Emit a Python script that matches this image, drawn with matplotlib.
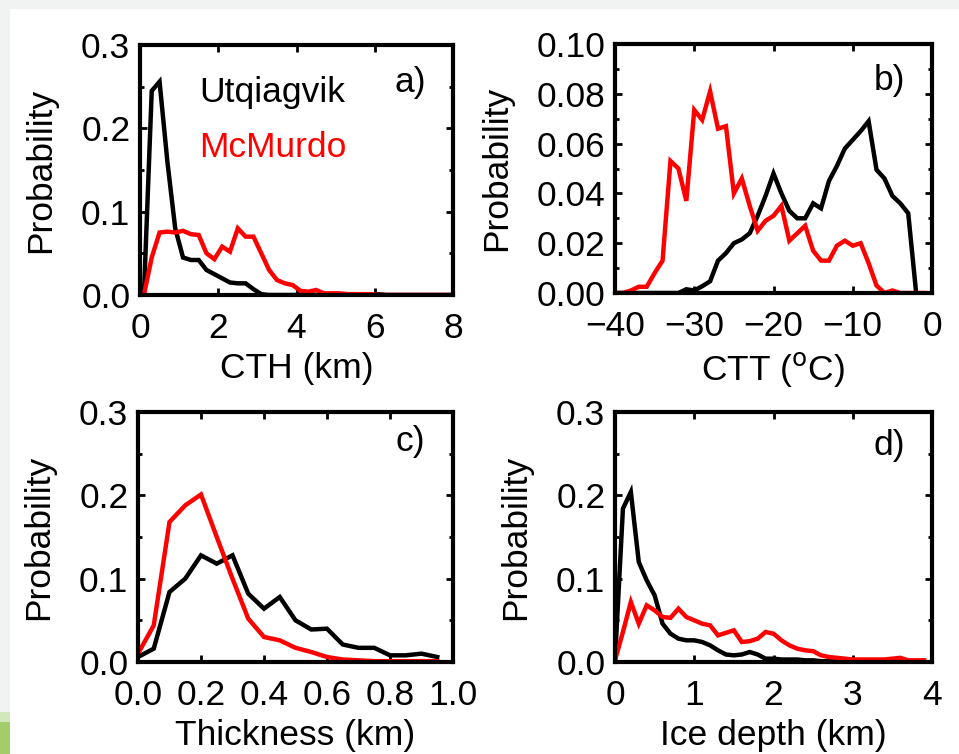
import numpy as np
import matplotlib
matplotlib.use("Agg")
import matplotlib.pyplot as plt
from matplotlib.patches import Rectangle
from matplotlib.ticker import MultipleLocator

plt.rcParams['font.family'] = ['Liberation Sans', 'DejaVu Sans']

# ---------------- data ----------------
# a) CTH (km)
cth_x = [0.1, 0.3, 0.5, 0.7, 0.9, 1.1, 1.3, 1.5, 1.7, 1.9, 2.1, 2.3, 2.5, 2.7, 2.9,
         3.1, 3.3, 3.5, 3.7, 3.9, 4.1, 4.3, 4.5, 4.7, 4.9, 5.1, 5.3, 5.5, 5.7, 5.9,
         6.1, 6.3, 6.5, 6.7, 6.9, 7.1, 7.3, 7.5, 7.7, 7.9]
cth_utq = [0.0, 0.245, 0.256, 0.16, 0.08, 0.045, 0.042, 0.042, 0.03, 0.025, 0.02, 0.015,
           0.014, 0.014, 0.007, 0.001, 0.0, 0.0, 0.0, 0.0, 0.0, 0.001, 0.0, 0.001, 0.001,
           0.001, 0.001, 0.001, 0.0, 0.0, 0.001, 0.0, 0.0, 0.0, 0.0, 0.0, 0.0, 0.0, 0.0, 0.0]
cth_mcm = [0.0, 0.045, 0.075, 0.076, 0.075, 0.077, 0.073, 0.072, 0.05, 0.043, 0.058, 0.052,
           0.08, 0.07, 0.07, 0.05, 0.03, 0.018, 0.014, 0.012, 0.005, 0.004, 0.006, 0.002,
           0.002, 0.002, 0.001, 0.001, 0.001, 0.001, 0.0, 0.0, 0.0, 0.0, 0.0, 0.0, 0.0,
           0.0, 0.0, 0.0]

# b) CTT (degC)
ctt_x = list(range(-40, 0))
ctt_utq = [0.0, 0.0, 0.0, 0.0, 0.0, 0.0, 0.0, 0.0, 0.0, 0.0015, 0.001, 0.0027, 0.0047,
           0.013, 0.016, 0.02, 0.0215, 0.024, 0.031, 0.039, 0.048, 0.040, 0.033, 0.030,
           0.030, 0.036, 0.034, 0.045, 0.051, 0.058, 0.0615, 0.065, 0.069, 0.0495, 0.046,
           0.039, 0.036, 0.032, 0.0, np.nan]
ctt_mcm = [0.0, 0.0, 0.001, 0.0025, 0.0025, 0.008, 0.013, 0.053, 0.05, 0.037, 0.0735,
           0.0695, 0.081, 0.066, 0.067, 0.04, 0.046, 0.035, 0.025, 0.029, 0.031, 0.035,
           0.021, 0.024, 0.027, 0.017, 0.013, 0.013, 0.019, 0.021, 0.019, 0.020, 0.012,
           0.003, 0.0, 0.001, 0.0, 0.0, 0.0, 0.0]

# c) Thickness (km)
thk_x = [0.0, 0.05, 0.1, 0.15, 0.2, 0.25, 0.3, 0.35, 0.4, 0.45, 0.5, 0.55, 0.6, 0.65,
         0.7, 0.75, 0.8, 0.85, 0.9, 0.95]
thk_utq = [0.006, 0.016, 0.084, 0.1, 0.128, 0.118, 0.128, 0.082, 0.064, 0.078, 0.05,
           0.039, 0.04, 0.021, 0.017, 0.017, 0.008, 0.008, 0.01, 0.006]
thk_mcm = [0.01, 0.044, 0.168, 0.188, 0.201, 0.15, 0.1, 0.052, 0.03, 0.026, 0.017,
           0.012, 0.006, 0.003, 0.002, 0.001, 0.001, 0.001, 0.001, 0.001]

# d) Ice depth (km)
ice_x = [round(0.1 * i, 1) for i in range(40)]
ice_utq = [0.002, 0.184, 0.204, 0.12, 0.098, 0.08, 0.046, 0.034, 0.028, 0.026, 0.026,
           0.024, 0.02, 0.014, 0.009, 0.008, 0.009, 0.012, 0.009, 0.004, 0.004, 0.003,
           0.003, 0.003, 0.002, 0.002, 0.001, 0.001, 0.001, 0.001, 0.001, 0.001, 0.0,
           0.0, 0.0, 0.0, 0.0, 0.0, 0.0, 0.0]
ice_mcm = [0.002, 0.036, 0.072, 0.046, 0.068, 0.062, 0.054, 0.053, 0.064, 0.054, 0.05,
           0.046, 0.044, 0.032, 0.035, 0.038, 0.024, 0.025, 0.028, 0.036, 0.034, 0.026,
           0.02, 0.016, 0.014, 0.013, 0.008, 0.006, 0.005, 0.004, 0.003, 0.003, 0.003,
           0.003, 0.003, 0.004, 0.005, 0.002, 0.002, 0.002]

# ---------------- figure ----------------
fig = plt.figure(figsize=(9.59, 7.54), dpi=100)
fig.patch.set_facecolor('#f1f3f2')
fig.patches.append(Rectangle((10 / 959, 0), 1, 1 - 9 / 754, transform=fig.transFigure,
                             facecolor='white', edgecolor='none', zorder=-10))
fig.patches.append(Rectangle((0, 0), 10 / 959, 32 / 754, transform=fig.transFigure,
                             facecolor='#a3cd6a', edgecolor='none', zorder=-9))
fig.patches.append(Rectangle((0, 32 / 754), 10 / 959, 10 / 754, transform=fig.transFigure,
                             facecolor='#d3e8b8', edgecolor='none', zorder=-9))

FS = 25.5
LW = 3.2


def make_ax(rect, x, utq, mcm, xlim, ylim, xstep, ystep, xlabel, tag, yfmt, xfmt, tagpos):
    ax = fig.add_axes(rect)
    ax.plot(x, utq, color='black', lw=LW, solid_joinstyle='miter', zorder=3)
    ax.plot(x, mcm, color='#ff0000', lw=LW, solid_joinstyle='miter', zorder=3)
    ax.set_xlim(*xlim)
    ax.set_ylim(*ylim)
    ax.xaxis.set_major_locator(MultipleLocator(xstep))
    ax.yaxis.set_major_locator(MultipleLocator(ystep))
    ax.yaxis.set_minor_locator(MultipleLocator(ystep / 2))
    ax.xaxis.set_major_formatter(xfmt)
    ax.yaxis.set_major_formatter(yfmt)
    ax.tick_params(which='both', direction='in', top=True, right=True, width=2.0,
                   labelsize=FS)
    ax.tick_params(axis='y', pad=7)
    ax.tick_params(axis='x', pad=12.5)
    ax.tick_params(which='major', length=5)
    ax.tick_params(which='minor', length=3)
    for s in ax.spines.values():
        s.set_linewidth(3.0)
        s.set_zorder(4)
    ax.set_xlabel(xlabel, fontsize=FS, labelpad=5)
    ax.set_ylabel('Probability', fontsize=FS, labelpad=17)
    ax.text(tagpos[0], tagpos[1], tag, transform=ax.transAxes, fontsize=FS,
            ha='right', va='center')
    return ax


def f1(v, p):
    return f"{v:.1f}"


def f2(v, p):
    return f"{v:.2f}"


def fi(v, p):
    return f"{int(round(v))}".replace('-', '\u2212')


axa = make_ax([140 / 959, 1 - 295 / 754, 313 / 959, 250 / 754], cth_x, cth_utq, cth_mcm,
              (0, 8), (0, 0.3), 2, 0.1, 'CTH (km)', 'a)', f1, fi, (0.915, 0.85))
axa.text(0.19, 0.81, 'Utqiagvik', transform=axa.transAxes, fontsize=FS,
         color='black', ha='left', va='center')
axa.text(0.19, 0.59, 'McMurdo', transform=axa.transAxes, fontsize=FS,
         color='#ff0000', ha='left', va='center')

make_ax([615 / 959, 1 - 293 / 754, 317 / 959, 249 / 754], ctt_x, ctt_utq, ctt_mcm,
        (-40, 0), (0, 0.1), 10, 0.02, 'CTT ($^{\\mathrm{o}}$C)', 'b)', f2, fi, (0.915, 0.855))

make_ax([138 / 959, 1 - 662 / 754, 315 / 959, 250 / 754], thk_x, thk_utq, thk_mcm,
        (0, 1.0), (0, 0.3), 0.2, 0.1, 'Thickness (km)', 'c)', f1, f1, (0.91, 0.88))

make_ax([615 / 959, 1 - 662 / 754, 317 / 959, 250 / 754], ice_x, ice_utq, ice_mcm,
        (0, 4), (0, 0.3), 1, 0.1, 'Ice depth (km)', 'd)', f1, fi, (0.915, 0.868))

fig.savefig('out.png', dpi=100, facecolor=fig.get_facecolor())
